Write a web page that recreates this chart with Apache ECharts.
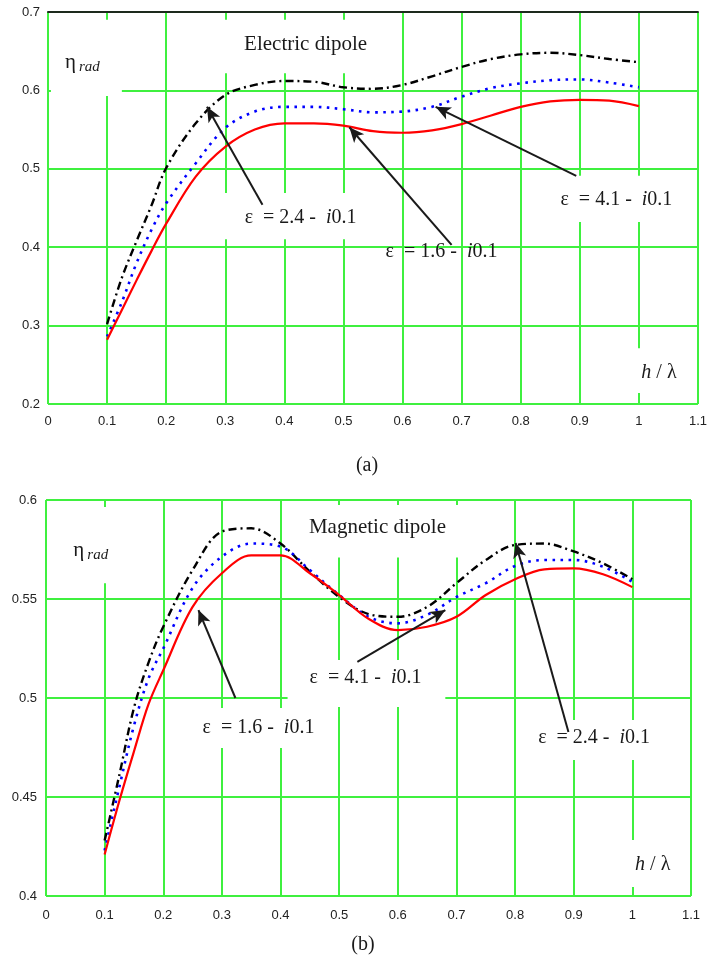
<!DOCTYPE html>
<html>
<head>
<meta charset="utf-8">
<script src="https://cdn.jsdelivr.net/npm/echarts@6/dist/echarts.min.js"></script>
<style>
  html, body { margin: 0; padding: 0; background: #ffffff; }
  #chart { width: 710px; height: 962px; }
</style>
</head>
<body>
<div id="chart"></div>
<script>
// ---- data -------------------------------------------------------------
// normalised height h/λ at which the efficiency was sampled
const hElectric = [0.1, 0.125, 0.15, 0.175, 0.2, 0.25, 0.3, 0.35, 0.4, 0.45, 0.5,
                   0.55, 0.6, 0.65, 0.7, 0.75, 0.8, 0.85, 0.9, 0.95, 1.0];
// (a) electric dipole, radiation efficiency
const elec16 = [0.282, 0.320, 0.358, 0.395, 0.430, 0.490, 0.528, 0.550, 0.558, 0.558, 0.555,
                0.548, 0.546, 0.549, 0.557, 0.568, 0.579, 0.586, 0.588, 0.587, 0.580];
const elec24 = [0.302, 0.361, 0.408, 0.453, 0.501, 0.558, 0.594, 0.607, 0.612, 0.611, 0.604,
                0.602, 0.607, 0.618, 0.630, 0.640, 0.646, 0.648, 0.645, 0.640, 0.636];
const elec41 = [0.286, 0.330, 0.380, 0.422, 0.456, 0.507, 0.552, 0.573, 0.579, 0.579, 0.576,
                0.572, 0.573, 0.579, 0.592, 0.603, 0.609, 0.613, 0.614, 0.610, 0.604];

const hMagnetic = [0.1, 0.125, 0.15, 0.175, 0.2, 0.25, 0.3, 0.35, 0.4, 0.45, 0.5,
                   0.55, 0.6, 0.65, 0.7, 0.75, 0.8, 0.85, 0.9, 0.95, 1.0];
// (b) magnetic dipole, radiation efficiency
const mag16 = [0.421, 0.448, 0.473, 0.497, 0.514, 0.546, 0.563, 0.572, 0.572, 0.563, 0.552,
               0.540, 0.5343, 0.536, 0.541, 0.552, 0.560, 0.565, 0.5655, 0.5625, 0.556];
const mag24 = [0.428, 0.461, 0.495, 0.518, 0.536, 0.5646, 0.584, 0.5857, 0.578, 0.5638, 0.551,
               0.5424, 0.541, 0.546, 0.558, 0.5697, 0.5773, 0.578, 0.574, 0.568, 0.560];
const mag41 = [0.423, 0.455, 0.486, 0.510, 0.525, 0.5556, 0.5714, 0.578, 0.5765, 0.5646, 0.552,
               0.541, 0.5377, 0.542, 0.551, 0.558, 0.5667, 0.5697, 0.5697, 0.5663, 0.5587];

const seriesLabels = ['ε = 1.6 - i0.1', 'ε = 2.4 - i0.1', 'ε = 4.1 - i0.1'];

// ---- styling ------------------------------------------------------------
const GREEN = '#3ff03f';
const SERIF = '"Liberation Serif", "Times New Roman", serif';
const SANS = '"Liberation Sans", Arial, sans-serif';

const pairs = (xs, ys) => xs.map((x, i) => [x, ys[i]]);

const styles = {
  red:   { color: '#ff0000', width: 2.2, type: 'solid' },
  black: { color: '#000000', width: 2.4, type: [8, 4, 2, 4] },
  blue:  { color: '#0000ff', width: 2.6, type: [2.6, 5.5] }
};

function arrow(from, to) {
  return [{ coord: from }, { coord: to }];
}

function line(name, grid, data, st, arrows) {
  return {
    name: name,
    type: 'line',
    xAxisIndex: grid,
    yAxisIndex: grid,
    data: data,
    smooth: 0.35,
    showSymbol: false,
    symbol: 'none',
    silent: true,
    lineStyle: { color: st.color, width: st.width, type: st.type },
    z: 3,
    markLine: arrows ? {
      silent: true,
      symbol: ['none', 'arrow'],
      symbolSize: [10, 15],
      lineStyle: { color: '#1a1a1a', width: 2, type: 'solid' },
      label: { show: false },
      emphasis: { disabled: true },
      data: arrows
    } : undefined
  };
}

const xAxisBase = {
  type: 'value', min: 0, max: 1.1, interval: 0.1,
  axisLine: { show: false }, axisTick: { show: false },
  splitLine: { show: true, lineStyle: { color: GREEN, width: 2 } },
  axisLabel: { color: '#222', fontFamily: SANS, fontSize: 13 }
};

const chart = echarts.init(document.getElementById('chart'), null, { renderer: 'canvas' });

chart.setOption({
  animation: false,
  backgroundColor: '#ffffff',
  grid: [
    { left: 48, top: 12, width: 651, height: 392 },
    { left: 46, top: 500, width: 645, height: 396 }
  ],
  xAxis: [
    Object.assign({}, xAxisBase, { gridIndex: 0, axisLabel: Object.assign({}, xAxisBase.axisLabel, { margin: 11 }) }),
    Object.assign({}, xAxisBase, { gridIndex: 1, axisLabel: Object.assign({}, xAxisBase.axisLabel, { margin: 13 }) }),
    { type: 'value', gridIndex: 0, position: 'top', min: 0, max: 1.1,
      axisLine: { show: true, lineStyle: { color: '#1d2a1d', width: 2 } },
      axisTick: { show: false }, axisLabel: { show: false }, splitLine: { show: false } }
  ],
  yAxis: [
    { type: 'value', gridIndex: 0, min: 0.2, max: 0.7, interval: 0.1,
      axisLine: { show: false }, axisTick: { show: false },
      splitLine: { show: true, lineStyle: { color: GREEN, width: 2 } },
      axisLabel: { color: '#222', fontFamily: SANS, fontSize: 13, margin: 8 } },
    { type: 'value', gridIndex: 1, min: 0.4, max: 0.6, interval: 0.05,
      axisLine: { show: false }, axisTick: { show: false },
      splitLine: { show: true, lineStyle: { color: GREEN, width: 2 } },
      axisLabel: { color: '#222', fontFamily: SANS, fontSize: 13, margin: 9 } }
  ],
  series: [
    // (a) electric dipole
    line(seriesLabels[1], 0, pairs(hElectric, elec24), styles.black,
         [arrow([0.363, 0.454], [0.269, 0.579])]),
    line(seriesLabels[2], 0, pairs(hElectric, elec41), styles.blue,
         [arrow([0.894, 0.491], [0.656, 0.579])]),
    line(seriesLabels[0], 0, pairs(hElectric, elec16), styles.red,
         [arrow([0.683, 0.403], [0.510, 0.553])]),
    // (b) magnetic dipole
    line(seriesLabels[1], 1, pairs(hMagnetic, mag24), styles.black,
         [arrow([0.891, 0.4828], [0.801, 0.5783])]),
    line(seriesLabels[2], 1, pairs(hMagnetic, mag41), styles.blue,
         [arrow([0.531, 0.5182], [0.681, 0.5444])]),
    line(seriesLabels[0], 1, pairs(hMagnetic, mag16), styles.red,
         [arrow([0.323, 0.500], [0.260, 0.5444])])
  ]
});

// ---- annotations (white label panels, texts, captions) ----------------
const px = (g, p) => chart.convertToPixel({ gridIndex: g }, p);

function panel(g, x0, y0, x1, y1) {
  const a = px(g, [x0, y1]);
  const b = px(g, [x1, y0]);
  return { type: 'rect', z: 1, silent: true,
           shape: { x: a[0], y: a[1], width: b[0] - a[0], height: b[1] - a[1] },
           style: { fill: '#ffffff' } };
}

const richBase = {
  n: { fontFamily: SERIF, fontSize: 20, fill: '#1a1a1a' },
  it: { fontFamily: SERIF, fontSize: 20, fontStyle: 'italic', fill: '#1a1a1a' }
};

function epsLabel(g, at, value) {
  const p = px(g, at);
  return { type: 'text', z: 5, silent: true, x: p[0], y: p[1],
           style: { text: '{n|ε  = ' + value + ' -  }{it|i}{n|0.1}', rich: richBase,
                    align: 'center', verticalAlign: 'middle' } };
}

function plainText(g, at, text, size) {
  const p = px(g, at);
  return { type: 'text', z: 5, silent: true, x: p[0], y: p[1],
           style: { text: text, fontFamily: SERIF, fontSize: size, fill: '#1a1a1a',
                    align: 'center', verticalAlign: 'middle' } };
}

function etaRad(g, at) {
  const p = px(g, at);
  return [
    { type: 'text', z: 5, silent: true, x: p[0], y: p[1],
      style: { text: 'η', fontFamily: SERIF, fontSize: 21, fill: '#1a1a1a',
               align: 'left', verticalAlign: 'middle' } },
    { type: 'text', z: 5, silent: true, x: p[0] + 14, y: p[1] + 5,
      style: { text: 'rad', fontFamily: SERIF, fontSize: 15, fontStyle: 'italic', fill: '#1a1a1a',
               align: 'left', verticalAlign: 'middle' } }
  ];
}

function hOverLambda(g, at) {
  const p = px(g, at);
  return { type: 'text', z: 5, silent: true, x: p[0], y: p[1],
           style: { text: '{it|h}{n| / λ}', rich: richBase, align: 'center', verticalAlign: 'middle' } };
}

const graphics = [
  // panel (a)
  panel(0, 0.005, 0.593, 0.125, 0.690),
  panel(0, 0.225, 0.622, 0.586, 0.690),
  panel(0, 0.257, 0.410, 0.578, 0.469),
  panel(0, 0.823, 0.432, 1.093, 0.491),
  panel(0, 0.975, 0.214, 1.085, 0.271),
  ...etaRad(0, [0.0287, 0.6362]),
  plainText(0, [0.436, 0.658], 'Electric dipole', 21),
  epsLabel(0, [0.4275, 0.4372], '2.4'),
  epsLabel(0, [0.666, 0.3939], '1.6'),
  epsLabel(0, [0.962, 0.4602], '4.1'),
  hOverLambda(0, [1.034, 0.2395]),
  // panel (b)
  panel(1, 0.007, 0.558, 0.149, 0.5965),
  panel(1, 0.417, 0.571, 0.724, 0.5975),
  panel(1, 0.412, 0.4955, 0.681, 0.5192),
  panel(1, 0.238, 0.4747, 0.485, 0.4950),
  panel(1, 0.809, 0.4687, 1.069, 0.4889),
  panel(1, 0.971, 0.4045, 1.082, 0.4283),
  ...etaRad(1, [0.0466, 0.5747]),
  plainText(1, [0.5653, 0.5859], 'Magnetic dipole', 21),
  epsLabel(1, [0.3623, 0.4848], '1.6'),
  epsLabel(1, [0.5449, 0.5101], '4.1'),
  epsLabel(1, [0.9348, 0.4798], '2.4'),
  hOverLambda(1, [1.0347, 0.4157]),
  // captions
  { type: 'text', z: 5, silent: true, x: 367, y: 466,
    style: { text: '(a)', fontFamily: SERIF, fontSize: 20, fill: '#1a1a1a', align: 'center', verticalAlign: 'middle' } },
  { type: 'text', z: 5, silent: true, x: 363, y: 945,
    style: { text: '(b)', fontFamily: SERIF, fontSize: 20, fill: '#1a1a1a', align: 'center', verticalAlign: 'middle' } }
];

chart.setOption({ graphic: { elements: graphics } });
</script>
</body>
</html>
